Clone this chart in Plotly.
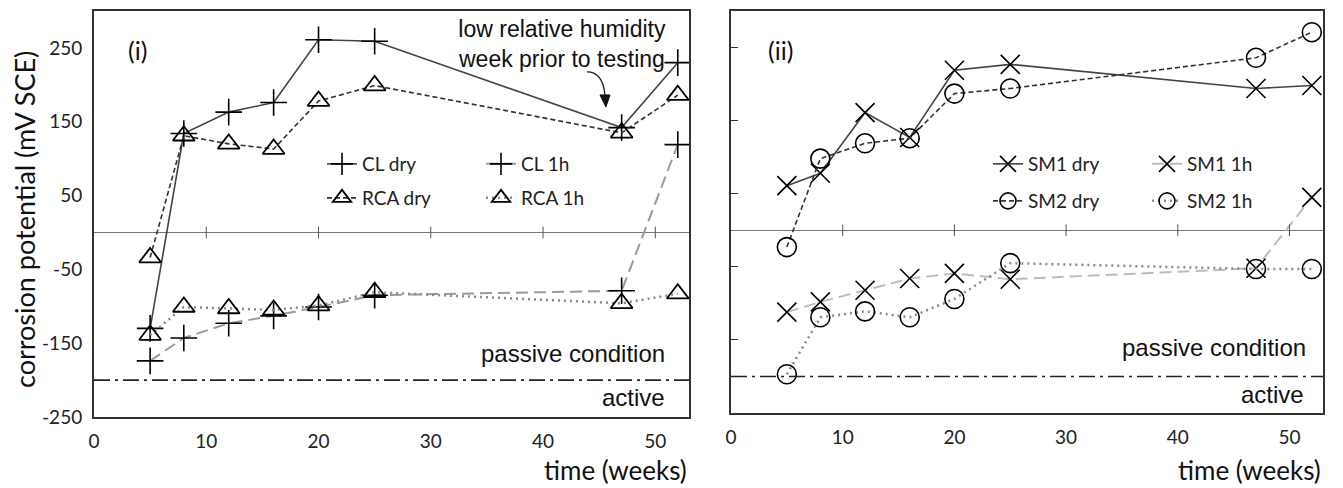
import plotly.graph_objects as go

# weeks of exposure
weeks = [5, 8, 12, 16, 20, 25, 47, 52]

# (i) control and recycled-aggregate concrete, mV vs SCE
cl_dry = [-130, 134, 163, 176, 261, 259, 142, 230]
rca_dry = [-34, 131, 120, 113, 178, 199, 135, 186]
cl_1h = [-174, -143, -123, -113, -101, -85, -79, 119]
rca_1h = [-139, -101, -103, -105, -99, -81, -96, -83]

# (ii) SM1 / SM2 mixes, mV vs SCE
sm1_dry = [61, 78, 161, 127, 219, 227, 194, 198]
sm2_dry = [-23, 98, 119, 126, 187, 194, 236, 271]
sm1_1h = [-112, -98, -82, -66, -59, -67, -52, 45]
sm2_1h = [-197, -119, -111, -119, -94, -45, -53, -53]

x_ticks = [0, 10, 20, 30, 40, 50]
y_ticks = [-250, -150, -50, 50, 150, 250]
y_tick_text = [str(v) for v in y_ticks]
active_limit = -200

TICK_FONT = dict(family="Lato", size=19, color="#222")
LABEL_FONT = dict(family="Liberation Sans", size=24, color="#111")
NOTE_FONT = dict(family="Liberation Sans", size=23, color="#111")
TITLE_FONT = dict(family="Lato", size=27, color="#111")
XTITLE_FONT = dict(family="Lato", size=26, color="#111")

fig = go.Figure()


def add_series(name, y, xa, ya, lcolor, dash, lwidth, symbol, msize, mlw, legend):
    fig.add_trace(go.Scatter(
        x=weeks, y=y, name=name, mode="lines+markers",
        xaxis=xa, yaxis=ya, legend=legend,
        line=dict(color=lcolor, dash=dash, width=lwidth),
        marker=dict(symbol=symbol, size=msize, color="black",
                    line=dict(color="black", width=mlw)),
    ))


add_series("CL dry", cl_dry, "x", "y", "#444", "solid", 1.6, "cross-thin", 19, 1.6, "legend")
add_series("CL 1h", cl_1h, "x", "y", "#9a9a9a", "12px,6px", 2, "cross-thin", 19, 1.6, "legend")
add_series("RCA dry", rca_dry, "x", "y", "#333", "5px,3px", 1.6, "triangle-up-open", 19, 1.8, "legend2")
add_series("RCA 1h", rca_1h, "x", "y", "#8a8a8a", "2px,4px", 2.5, "triangle-up-open", 19, 1.8, "legend2")

add_series("SM1 dry", sm1_dry, "x2", "y2", "#444", "solid", 1.6, "x-thin", 19, 1.6, "legend3")
add_series("SM1 1h", sm1_1h, "x2", "y2", "#bdbdbd", "12px,6px", 2, "x-thin", 19, 1.6, "legend3")
add_series("SM2 dry", sm2_dry, "x2", "y2", "#333", "5px,3px", 1.6, "circle-open", 19, 1.6, "legend4")
add_series("SM2 1h", sm2_1h, "x2", "y2", "#8a8a8a", "2px,4px", 2.5, "circle-open", 19, 1.6, "legend4")

W, H = 1343, 488
xd1 = [94 / W, 689 / W]
xd2 = [731 / W, 1323 / W]
yd1 = [(H - 417) / H, (H - 11) / H]
yd2 = [(H - 413) / H, (H - 11) / H]

xcommon = dict(range=[0, 53], tickvals=x_ticks, showgrid=False, zeroline=False,
               showline=True, linecolor="#333", linewidth=2, mirror=True,
               ticks="", tickfont=TICK_FONT, ticklabelstandoff=6)
ycommon = dict(range=[-250, 300], tickvals=y_ticks, ticktext=y_tick_text, showgrid=False,
               zeroline=True, zerolinecolor="#777", zerolinewidth=1,
               showline=True, linecolor="#333", linewidth=2, mirror=True,
               tickfont=TICK_FONT)

fig.update_layout(
    width=W, height=H,
    margin=dict(l=0, r=0, t=0, b=0, autoexpand=False),
    plot_bgcolor="white", paper_bgcolor="white",
    xaxis=dict(domain=xd1, anchor="y", **xcommon),
    yaxis=dict(domain=yd1, anchor="x", ticks="", ticklabelstandoff=6, **ycommon),
    xaxis2=dict(domain=xd2, anchor="y2", **xcommon),
    yaxis2=dict(domain=yd2, anchor="x2", ticks="inside", ticklen=7, tickcolor="#333",
                showticklabels=False, **ycommon),
)

leg = dict(orientation="h", bgcolor="rgba(0,0,0,0)", font=dict(family="Lato", size=19, color="#222"),
           itemsizing="trace", entrywidth=114, entrywidthmode="pixels",
           xanchor="left", yanchor="middle", tracegroupgap=0, itemclick=False)
fig.update_layout(
    legend=dict(x=322 / W, y=(H - 164) / H, **leg),
    legend2=dict(x=322 / W, y=(H - 198) / H, **leg),
    legend3=dict(x=988 / W, y=(H - 164) / H, **leg),
    legend4=dict(x=988 / W, y=(H - 201) / H, **leg),
)

shapes = []
for xa, ya in (("x", "y"), ("x2", "y2")):
    # small tick marks across the zero line
    for t in x_ticks[1:]:
        shapes.append(dict(type="line", xref=xa, yref=ya, x0=t, x1=t, y0=-8, y1=8,
                           line=dict(color="#555", width=1)))
    # active / passive threshold
    shapes.append(dict(type="line", xref=f"{xa} domain", yref=ya, x0=0, x1=1,
                       y0=active_limit, y1=active_limit,
                       line=dict(color="#222", width=1.6, dash="16px,5px,3px,5px")))

# curved pointer towards week 47
shapes.append(dict(type="path", xref="x", yref="y",
                   path="M 43.91,217.5 Q 45.33,217.5 45.51,186.3",
                   line=dict(color="#222", width=1.4)))
shapes.append(dict(type="path", xref="x", yref="y",
                   path="M 45.07,186.3 L 45.96,186.3 L 45.6,170 Z",
                   fillcolor="#111", line=dict(color="#111", width=1)))
fig.update_layout(shapes=shapes)

ann = [
    dict(text="(i)", x=137 / W, y=(H - 50) / H, font=dict(family="Lato", size=25, color="#111")),
    dict(text="(ii)", x=780 / W, y=(H - 50) / H, font=dict(family="Lato", size=25, color="#111")),
    dict(text="low relative humidity<br>week prior to testing", x=562 / W, y=(H - 44) / H, font=NOTE_FONT),
    dict(text="passive condition", x=667 / W, y=(H - 353) / H, xanchor="right", font=LABEL_FONT),
    dict(text="active", x=667 / W, y=(H - 397) / H, xanchor="right", font=LABEL_FONT),
    dict(text="passive condition", x=1308 / W, y=(H - 347) / H, xanchor="right", font=LABEL_FONT),
    dict(text="active", x=1306 / W, y=(H - 394) / H, xanchor="right", font=LABEL_FONT),
    dict(text="corrosion potential (mV SCE)", x=25 / W, y=(H - 220) / H, textangle=-90,
         font=TITLE_FONT),
    dict(text="time (weeks)", x=689 / W, y=(H - 470) / H, xanchor="right", font=XTITLE_FONT),
    dict(text="time (weeks)", x=1323 / W, y=(H - 470) / H, xanchor="right", font=XTITLE_FONT),
]
for a in ann:
    a.setdefault("xanchor", "center")
    a.update(xref="paper", yref="paper", yanchor="middle", showarrow=False)
fig.update_layout(annotations=ann)

fig.write_html("out.html")
